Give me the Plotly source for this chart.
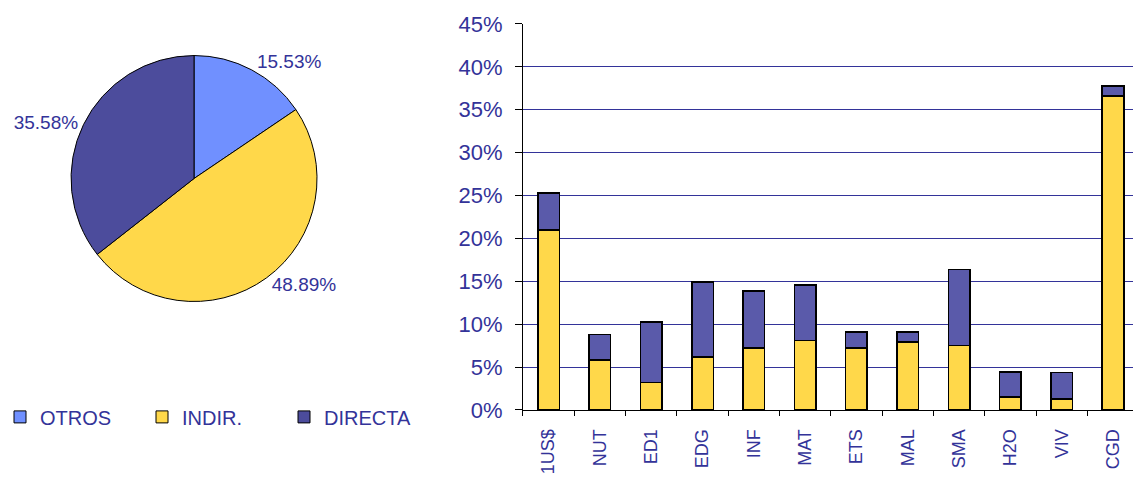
import plotly.graph_objects as go

# pie: share of each source
pie_labels = ["OTROS", "INDIR.", "DIRECTA"]
pie_values = [15.53, 48.89, 35.58]

# bars: percent by programme, stacked
programas = ["1US$", "NUT", "ED1", "EDG", "INF", "MAT", "ETS", "MAL", "SMA", "H2O", "VIV", "CGD"]
indirecta = [21.0, 5.8, 3.2, 6.2, 7.2, 8.1, 7.2, 7.9, 7.5, 1.5, 1.3, 36.6]
directa = [4.3, 3.0, 7.05, 8.7, 6.7, 6.5, 1.9, 1.2, 8.9, 2.95, 3.05, 1.2]

y_ticks = [0, 5, 10, 15, 20, 25, 30, 35, 40, 45]

txt = "#333399"
fnt = "Arial, Liberation Sans, sans-serif"

fig = go.Figure()

fig.add_trace(go.Pie(
    labels=pie_labels, values=pie_values, sort=False, direction="clockwise",
    marker=dict(colors=["#7090FF", "#FFD84A", "#4C4C9C"], line=dict(color="black", width=1)),
    texttemplate="%{value:.2f}%", textposition="outside",
    textfont=dict(color=txt, size=19, family=fnt),
    domain=dict(x=[0.0627, 0.2798], y=[0.3679, 0.8836]),
    automargin=False,
    hoverinfo="label+value",
))

fig.add_trace(go.Bar(
    x=programas, y=indirecta, name="INDIR.", showlegend=False, width=0.42,
    marker=dict(color="#FFD84A", line=dict(color="black", width=1.5)),
    xaxis="x", yaxis="y",
))
fig.add_trace(go.Bar(
    x=programas, y=directa, name="DIRECTA", showlegend=False, width=0.42,
    marker=dict(color="#5A5AAA", line=dict(color="black", width=1.5)),
    xaxis="x", yaxis="y",
))

fig.update_layout(
    width=1133, height=477,
    margin=dict(l=0, r=0, t=0, b=0, autoexpand=False),
    paper_bgcolor="white", plot_bgcolor="white",
    barmode="stack",
    font=dict(family=fnt, color=txt),
    showlegend=True,
    legend=dict(orientation="h", x=0, xanchor="left", y=0.126, yanchor="middle",
                font=dict(size=20, color=txt, family=fnt), entrywidth=97,
                bgcolor="rgba(0,0,0,0)", traceorder="normal"),
    xaxis=dict(domain=[0.4616, 1], type="category", range=[-0.5, 11.39],
               showline=True, linecolor="black", linewidth=1,
               ticks="outside", tickson="boundaries", ticklen=5, tickcolor="black",
               tickangle=-90, tickfont=dict(size=18, color=txt, family=fnt),
               ticklabelstandoff=11, showgrid=False, anchor="y", automargin=False),
    yaxis=dict(domain=[0.1405, 0.9497], range=[0, 45], tickvals=y_ticks,
               ticktext=[f"{v}%" for v in y_ticks],
               showline=True, linecolor="black", linewidth=1,
               ticks="outside", ticklen=7, tickcolor="black",
               tickfont=dict(size=22, color=txt, family=fnt), ticklabelstandoff=8,
               showgrid=True, gridcolor="#333399", gridwidth=1,
               zeroline=False, anchor="x", automargin=False),
)

# page has an 8px body margin by default; drop it so the figure sits at 0,0
fig.write_html("out.html", config={"displayModeBar": False},
               post_script="document.body.style.margin='0';")
